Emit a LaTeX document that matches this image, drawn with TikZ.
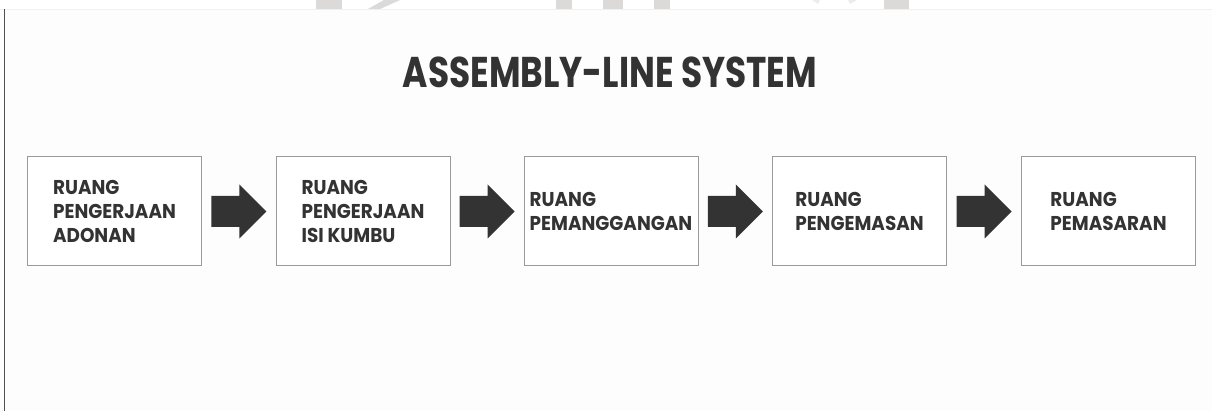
\documentclass[tikz,border=0pt]{standalone}
\usepackage{fontspec}
\newfontfamily\headfont{Poppins}[FakeStretch=0.80]
\newfontfamily\roomfont{Poppins}[FakeStretch=0.92]
\definecolor{ink}{HTML}{333333}
\definecolor{frame}{HTML}{9A9A9A}
\definecolor{rule}{HTML}{505050}
\definecolor{wmgrey}{HTML}{DCDAD8}
\definecolor{wmpale}{HTML}{EEECEB}
\begin{document}
\begin{tikzpicture}[x=1pt,y=-1pt,
  room/.style={draw=frame, line width=1pt, fill=white, minimum width=174pt,
    minimum height=109pt, inner sep=0pt, align=left, text=ink,
    font=\roomfont\bfseries\fontsize{20pt}{24pt}\selectfont},
  blockarrow/.pic={
    \fill[ink] (-27.5,-15.5) -- (0.5,-15.5) -- (0.5,-27) -- (27.5,0)
      -- (0.5,27) -- (0.5,15.5) -- (-27.5,15.5) -- cycle;
  },
]
% page and background
\useasboundingbox (0,0) rectangle (1212,411);
\fill[white] (0,0) rectangle (1212,411);
\fill[white!99.3!black] (0,9.5) rectangle (1212,411);
\draw[white!94!black, line width=0.5pt] (0,9.5) -- (1212,9.5);
% grey strokes along the top edge
\fill[wmgrey] (316,0) rectangle (342,9);
\fill[wmgrey] (384,0) -- (400,0) -- (380,9) -- (368,9) -- cycle;
\fill[wmgrey] (556,0) rectangle (572,9);
\fill[wmgrey] (603,0) rectangle (623,9);
\fill[wmgrey] (654,0) rectangle (670,9);
\fill[wmpale] (812,0) -- (820,0) -- (818,4) -- cycle;
\fill[wmpale] (848,0) -- (857,0) -- (850,4) -- cycle;
\fill[wmgrey] (884,0) rectangle (909,9);
% left rule
\draw[rule, line width=1.3pt] (4.5,9.5) -- (4.5,411);

% title
\node[text=ink, font=\headfont\bfseries\fontsize{43pt}{43pt}\selectfont, inner sep=0pt]
  (title) at (610,72) {ASSEMBLY-LINE SYSTEM};

% rooms
\node[room] (r1) at (114.5,211.5) {RUANG\\PENGERJAAN\\ADONAN};
\node[room] (r2) at (363,211.5) {RUANG\\PENGERJAAN\\ISI KUMBU};
\node[room] (r3) at (611,211.5) {RUANG\\PEMANGGANGAN};
\node[room] (r4) at (859.5,211.5) {RUANG\\PENGEMASAN};
\node[room] (r5) at (1108.5,211.5) {RUANG\\PEMASARAN};

% block arrows between the rooms
\path (r1.east) -- (r2.west) coordinate[midway] (m1);
\path (r2.east) -- (r3.west) coordinate[midway] (m2);
\path (r3.east) -- (r4.west) coordinate[midway] (m3);
\path (r4.east) -- (r5.west) coordinate[midway] (m4);
\pic at (m1) {blockarrow};
\pic at (m2) {blockarrow};
\pic at (m3) {blockarrow};
\pic at (m4) {blockarrow};
\end{tikzpicture}
\end{document}
